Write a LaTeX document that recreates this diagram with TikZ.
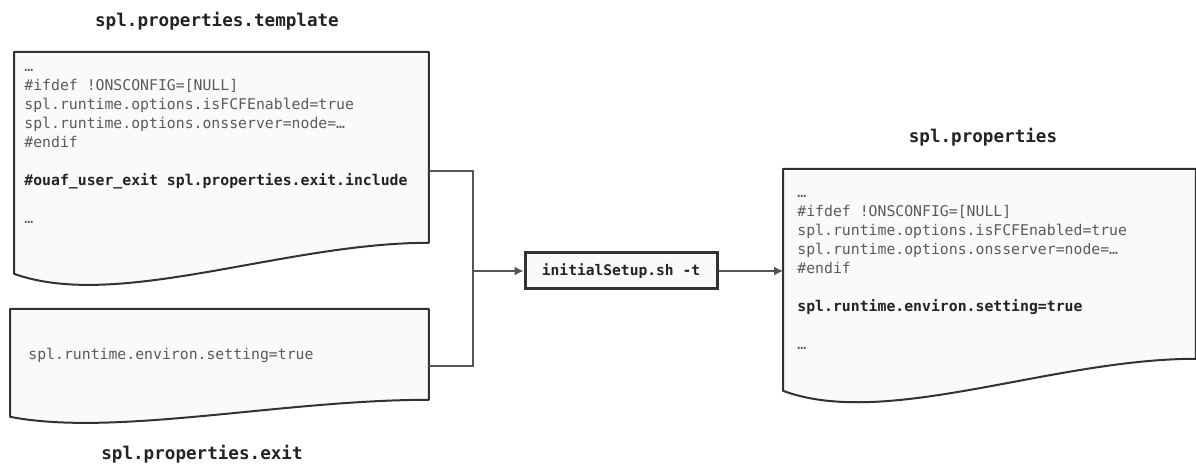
\documentclass[tikz,border=0pt]{standalone}
\usepackage{fontspec}
\setmonofont{DejaVu Sans Mono}
\usetikzlibrary{arrows.meta,positioning,calc}
\definecolor{docFill}{RGB}{250,250,249}
\definecolor{docLine}{RGB}{50,50,50}
\definecolor{codeGray}{RGB}{90,90,90}
\definecolor{codeDark}{RGB}{35,35,35}
\definecolor{wireGray}{RGB}{85,85,85}
% outline of a document shape: node name, depth of the wave
\newcommand{\docoutline}[2]{%
  \draw[docedge] (#1.north west) -- (#1.north east) -- (#1.south east)
    .. controls ($(#1.south east)!0.35!(#1.south west)$)
    and ($(#1.south east)!0.75!(#1.south west)+(0,2.2*#2)$)
    .. ($(#1.south west)+(0,#2)$) -- cycle;}

\begin{document}
\begin{tikzpicture}[
  x=0.5pt, y=-0.5pt,
  docbox/.style={inner sep=0pt, anchor=north west},
  docedge/.style={draw=docLine, line width=1pt, fill=docFill, line join=round},
  code/.style={anchor=base west, inner sep=0pt, align=left, text=codeGray,
    font=\ttfamily\fontsize{7.4}{9.5}\selectfont},
  title/.style={inner sep=0pt, text=codeDark, font=\ttfamily\bfseries\fontsize{8.8}{10}\selectfont},
  runbox/.style={draw=docLine, line width=1.5pt, fill=docFill, minimum width=96pt, minimum height=18pt,
    inner sep=0pt, text=codeDark, font=\ttfamily\bfseries\fontsize{7.3}{9}\selectfont},
  wire/.style={draw=wireGray, line width=0.6pt},
  a/.style={wire, -{Latex[length=4.5pt,width=4.5pt]}}
]
\useasboundingbox (0,0) rectangle (1196,464);

% documents
\node[docbox, minimum width=207pt, minimum height=95pt] (tpl) at (14,52) {};
\docoutline{tpl}{31}
\node[docbox, minimum width=209pt, minimum height=45pt] (exit) at (10,309) {};
\docoutline{exit}{17}
\node[docbox, minimum width=206pt, minimum height=94.5pt] (props) at (783,169) {};
\docoutline{props}{32}

% titles
\node[title] (tpltitle) at (217,21) {spl.properties.template};
\node[title] (exittitle) at (202,454) {spl.properties.exit};
\node[title] (propstitle) at (983,137) {spl.properties};

% contents (base = last line)
\node[code] (tpltxt) at (24,224) {…\\
  \#ifdef !ONSCONFIG=[NULL]\\
  spl.runtime.options.isFCFEnabled=true\\
  spl.runtime.options.onsserver=node=…\\
  \#endif\\[9.5pt]
  \textcolor{codeDark}{\bfseries \#ouaf\_user\_exit spl.properties.exit.include}\\[9.5pt]
  …};
\node[code] (exittxt) at (28,360) {spl.runtime.environ.setting=true};
\node[code] (propstxt) at (797,350) {…\\
  \#ifdef !ONSCONFIG=[NULL]\\
  spl.runtime.options.isFCFEnabled=true\\
  spl.runtime.options.onsserver=node=…\\
  \#endif\\[9.5pt]
  \textcolor{codeDark}{\bfseries spl.runtime.environ.setting=true}\\[9.5pt]
  …};

% script
\node[runbox] (setup) at (621,271) {initialSetup.sh -t};

% connectors
\coordinate (jtop) at (473,171);
\coordinate (jbot) at (473,366);
\draw[wire] (tpl.east |- jtop) -- (jtop) -- (jbot) -- (exit.east |- jbot);
\draw[a] (jtop |- setup) -- (setup.west);
\draw[a] (setup.east) -- (setup.east -| props.west);
\end{tikzpicture}
\end{document}
